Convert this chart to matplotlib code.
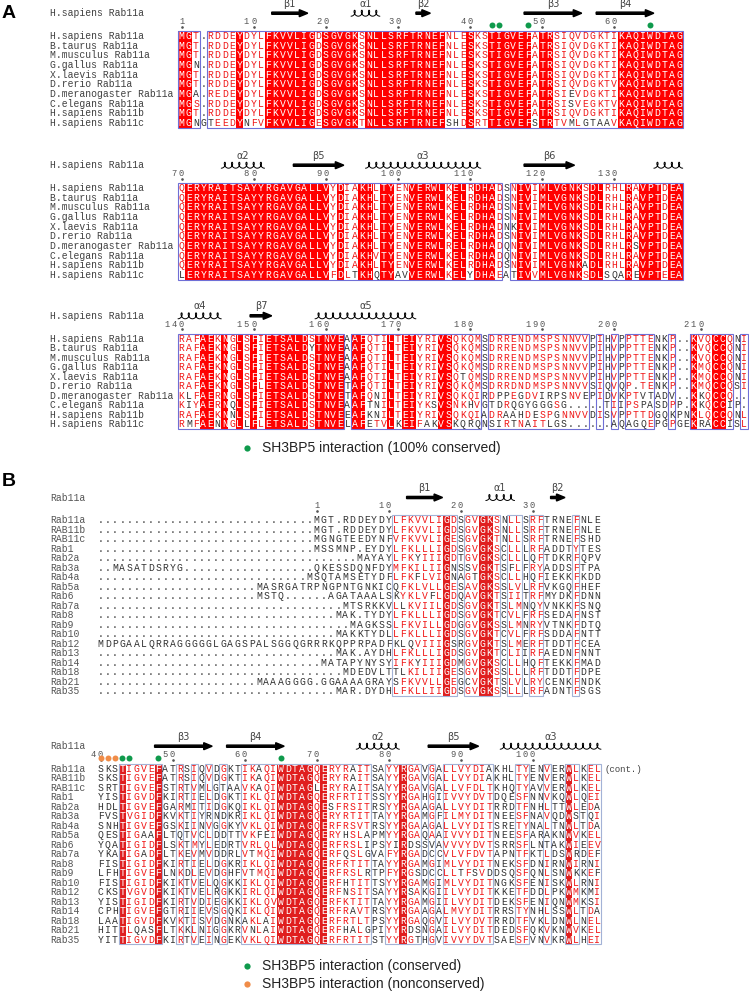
import matplotlib
matplotlib.use("Agg")
import matplotlib.pyplot as plt
from matplotlib.patches import Rectangle
import numpy as np

# ---------------- data ----------------
names_A = ["H.sapiens Rab11a", "B.taurus Rab11a", "M.musculus Rab11a", "G.gallus Rab11a",
           "X.laevis Rab11a", "D.rerio Rab11a", "D.meranogaster Rab11a", "C.elegans Rab11a",
           "H.sapiens Rab11b", "H.sapiens Rab11c"]

seqA_1 = [
    "MGT.RDDEYDYLFKVVLIGDSGVGKSNLLSRFTRNEFNLESKSTIGVEFATRSIQVDGKTIKAQIWDTAG",
    "MGT.RDDEYDYLFKVVLIGDSGVGKSNLLSRFTRNEFNLESKSTIGVEFATRSIQVDGKTIKAQIWDTAG",
    "MGT.RDDEYDYLFKVVLIGDSGVGKSNLLSRFTRNEFNLESKSTIGVEFATRSIQVDGKTIKAQIWDTAG",
    "MGN.RDDEYDYLFKVVLIGDSGVGKSNLLSRFTRNEFNLESKSTIGVEFATRSIQVDGKTIKAQIWDTAG",
    "MGT.RDDEYDYLFKVVLIGDSGVGKSNLLSRFTRNEFNLESKSTIGVEFATRSIQVDGKTIKAQIWDTAG",
    "MGT.RDDEYDYLFKVVLIGDSGVGKSNLLSRFTRNEFNLESKSTIGVEFATRSIQVDGKTVKAQIWDTAG",
    "MGA.REDEYDYLFKVVLIGDSGVGKSNLLSRFTRNEFNLESKSTIGVEFATRSIEVDGKTIKAQIWDTAG",
    "MGS.RDDEYDYLFKVVLIGDSGVGKSNLLSRFTRNEFNLESKSTIGVEFATRSISVEGKTVKAQIWDTAG",
    "MGT.RDDEYDYLFKVVLIGDSGVGKSNLLSRFTRNEFNLESKSTIGVEFATRSIQVDGKTIKAQIWDTAG",
    "MGNGTEEDYNFVFKVVLIGESGVGKTNLLSRFTRNEFSHDSRTTIGVEFSTRTVMLGTAAVKAQIWDTAG",
]
seqA_2 = [
    "QERYRAITSAYYRGAVGALLVYDIAKHLTYENVERWLKELRDHADSNIVIMLVGNKSDLRHLRAVPTDEA",
    "QERYRAITSAYYRGAVGALLVYDIAKHLTYENVERWLKELRDHADSNIVIMLVGNKSDLRHLRAVPTDEA",
    "QERYRAITSAYYRGAVGALLVYDIAKHLTYENVERWLKELRDHADSNIVIMLVGNKSDLRHLRAVPTDEA",
    "QERYRAITSAYYRGAVGALLVYDIAKHLTYENVERWLKELRDHADSNIVIMLVGNKSDLRHLRAVPTDEA",
    "QERYRAITSAYYRGAVGALLVYDIAKHLTYENVERWLKELRDHADNKIVIMLVGNKSDLRHLRAVPTDEA",
    "QERYRAITSAYYRGAVGALLVYDIAKHLTYENVERWLKELRDHADSNIVIMLVGNKSDLRHLRAVPTDEA",
    "QERYRAITSAYYRGAVGALLVYDIAKHLTYENVERWLRELRDHADQNIVIMLVGNKSDLRHLRSVPTDEA",
    "QERYRAITSAYYRGAVGALLVYDIAKHVTYENVERWLKELRDHADQNIVIMLVGNKSDLRHLRAVPTDEA",
    "QERYRAITSAYYRGAVGALLVYDIAKHLTYENVERWLKELRDHADSNIVIMLVGNKADLRHLRAVPTDEA",
    "LERYRAITSAYYRGAVGALLVFDLTKHQTYAVVERWLKELYDHAEATIVVMLVGNKSDLSQAREVPTEEA",
]
seqA_3 = [
    "RAFAEKNGLSFIETSALDSTNVEAAFQTILTEIYRIVSQKQMSDRRENDMSPSNNVVPIHVPPTTENKP..KVQCCQNI",
    "RAFAEKNGLSFIETSALDYTNVEAAFQTILTEIYRIVSQKQMSDRRENDMSPSNNVVPIHVPPTTENKP..KVQCCQNI",
    "RAFAEKNGLSFIETSALDSTNVEAAFQTILTEIYRIVSQKQMSDRRENDMSPSNNVVPIHVPPTTENKP..KVQCCQNI",
    "RAFAEKNGLSFIETSALDSTNVEAAFQTILTEIYRIVSQKQMSDRRENDMSPSNNVVPIHVPPTTENKP..KMQCCQNI",
    "RAFAEKNGLSFIETSALDSTNVEAAFQTILTEIYRIVSQTQMSDRRENDMSPSNNVVPIHVPPTTENKP..KMQCCQNI",
    "RAFAEKNGLSFLETSALDSTNVETAFQTILTEIYRIVSQKQMSDRRDNDMSPSNNVVSIQVQP.TENKP..KMQCCQSI",
    "KLFAERNGLSFIETSALDSTNVETAFQNILTEIYRIVSQKQIRDPPEGDVIRPSNVEPIDVKPTVTADV..KKQCCQ..",
    "KIYAERNQLSFIETSALDSTNVEAAFTNILTEIYKSVSNKHVGTDRQGYGGGSG.....TIIPSPASDPP.KKQCCIP.",
    "RAFAEKNNLSFIETSALDSTNVEEAFKNILTEIYRIVSQKQIADRAAHDESPGNNVVDISVPPTTDGQKPNKLQCCQNL",
    "RMFAENNGLLFLETSALDSTNVELAFETVLKEIFAKVSKQRQNSIRTNAITLGS......AQAGQEPGPGEKRACCISL",
]
startA = [1, 70, 140]

names_B = ["Rab11a", "RAB11b", "RAB11c", "Rab1", "Rab2a", "Rab3a", "Rab4a", "Rab5a", "Rab6",
           "Rab7a", "Rab8", "Rab9", "Rab10", "Rab12", "Rab13", "Rab14", "Rab18", "Rab21", "Rab35"]

seqB_1 = [
    "." * 30 + "MGT.RDDEYDYLFKVVLIGDSGVGKSNLLSRFTRNEFNLE",
    "." * 30 + "MGT.RDDEYDYLFKVVLIGDSGVGKSNLLSRFTRNEFNLE",
    "." * 30 + "MGNGTEEDYNFVFKVVLIGESGVGKTNLLSRFTRNEFSHD",
    "." * 30 + "MSSMNP.EYDYLFKLLLIGDSGVGKSCLLLRFADDTYTES",
    "." * 36 + "MAYAYLFKYIIIGDTGVGKSCLLLQFTDKRFQPV",
    "..MASATDSRYG" + "." * 18 + "QKESSDQNFDYMFKILIIGNSSVGKTSFLFRYADDSFTPA",
    "." * 29 + "MSQTAMSETYDFLFKFLVIGNAGTGKSCLLHQFIEKKFKDD",
    "." * 22 + "MASRGATRPNGPNTGNKICQFKLVLLGESAVGKSSLVLRFVKGQFHEF",
    "." * 22 + "MSTQ" + "." * 6 + "AGATAAALSKYKLVFLGDQAVGKTSIITRFMYDKFDNN",
    "." * 34 + "MTSRKKVLLKVIILGDSGVGKTSLMNQYVNKKFSNQ",
    "." * 33 + "MAK.TYDYLFKLLLIGDSGVGKTCVLFRFSEDAFNST",
    "." * 35 + "MAGKSSLFKVILLGDGGVGKSSLMNRYVTNKFDTQ",
    "." * 33 + "MAKKTYDLLFKLLLIGDSGVGKTCVLFRFSDDAFNTT",
    "MDPGAALQRRAGGGGGLGAGSPALSGGQGRRRKQPPRPADFKLQVIIIGSRGVGKTSLMERFTDDTFCEA",
    "." * 33 + "MAK.AYDHLFKLLLIGDSGVGKTCLIIRFAEDNFNNT",
    "." * 31 + "MATAPYNYSYIFKYIIIGDMGVGKSCLLHQFTEKKFMAD",
    "." * 34 + "MDEDVLTTLKILIIGESGVGKSSLLLRFTDDTFDPE",
    "." * 22 + "MAAAGGGG.GGAAAAGRAYSFKVVLLGEGCVGKTSLVLRYCENKFNDK",
    "." * 33 + "MAR.DYDHLFKLLIIGDSGVGKSSLLLRFADNTFSGS",
]
seqB_2 = [
    "SKSTIGVEFATRSIQVDGKTIKAQIWDTAGQERYRAITSAYYRGAVGALLVYDIAKHLTYENVERWLKEL",
    "SKSTIGVEFATRSIQVDGKTIKAQIWDTAGQERYRAITSAYYRGAVGALLVYDIAKHLTYENVERWLKEL",
    "SRTTIGVEFSTRTVMLGTAAVKAQIWDTAGLERYRAITSAYYRGAVGALLVFDLTKHQTYAVVERWLKEL",
    "YISTIGVDFKIRTIELDGKTIKLQIWDTAGQERFRTITSSYYRGAHGIIVVYDVTDQESFNNVKQWLQEI",
    "HDLTIGVEFGARMITIDGKQIKLQIWDTAGQESFRSITRSYYRGAAGALLVYDITRRDTFNHLTTWLEDA",
    "FVSTVGIDFKVKTIYRNDKRIKLQIWDTAGQERYRTITTAYYRGAMGFILMYDITNEESFNAVQDWSTQI",
    "SNHTIGVEFGSKIINVGGKYVKLQIWDTAGQERFRSVTRSYYRGAAGALLVYDITSRETYNALTNWLTDA",
    "QESTIGAAFLTQTVCLDDTTVKFEIWDTAGQERYHSLAPMYYRGAQAAIVVYDITNEESFARAKNWVKEL",
    "YQATIGIDFLSKTMYLEDRTVRLQLWDTAGQERFRSLIPSYIRDSSVAVVVYDVTSRRSFLNTAKWIEEV",
    "YKATIGADFLTKEVMVDDRLVTMQIWDTAGQERFQSLGVAFYRGADCCVLVFDVTAPNTFKTLDSWRDEF",
    "FISTIGIDFKIRTIELDGKRIKLQIWDTAGQERFRTITTAYYRGAMGIMLVYDITNEKSFDNIRNWIRNI",
    "LFHTIGVEFLNKDLEVDGHFVTMQIWDTAGQERFRSLRTPFYRGSDCCLLTFSVDDSQSFQNLSNWKKEF",
    "FISTIGIDFKIKTVELQGKKIKLQIWDTAGQERFHTITTSYYRGAMGIMLVYDITNGKSFENISKWLRNI",
    "CKSTVGVDFKIKTVELRGKKIRLQIWDTAGQERFNSITSAYYRSAKGIILVYDITKKETFDDLPKWMKMI",
    "YISTIGIDFKIRTVDIEGKKIKLQVWDTAGQERFKTITTAYYRGAMGIILVYDITDEKSFENIQNWMKSI",
    "CPHTIGVEFGTRIIEVSGQKIKLQIWDTAGQERFRAVTRSYYRGAAGALMVYDITRRSTYNHLSSWLTDA",
    "LAATIGVDFKVKTISVDGNKAKLAIWDTAGQERFRTLTPSYYRGAQGVILVYDVTRRDTFVKLDNWLNEL",
    "HITTLQASFLTKKLNIGGKRVNLAIWDTAGQERFHALGPIYYRDSNGAILVYDITDEDSFQKVKNWVKEL",
    "YITTIGVDFKIRTVEINGEKVKLQIWDTAGQERFRTITSTYYRGTHGVIVVYDVTSAESFVNVKRWLHEI",
]
startB = [1, 40]

# secondary structure of Rab11a (residue ranges)
ss_label = ["β1", "α1", "β2", "β3", "β4", "α2", "β5", "α3", "β6", "", "α4", "β7", "α5"]
ss_kind = ["arrow", "coil", "arrow", "arrow", "arrow", "coil", "arrow", "coil", "arrow",
           "coil", "coil", "arrow", "coil"]
ss_start = [13, 24, 33, 48, 58, 76, 86, 96, 118, 136, 140, 150, 159]
ss_end = [17, 27, 34, 55, 65, 81, 92, 111, 124, 139, 145, 152, 172]

marks_A_green = [43, 44, 48, 65]
marks_B_green = [43, 44, 48, 65]
marks_B_orange = [40, 41, 42]

legend_A = ["SH3BP5 interaction (100% conserved)"]
legend_B = ["SH3BP5 interaction (conserved)", "SH3BP5 interaction (nonconserved)"]

# ---------------- checks ----------------
for nm, blk in [("A1", seqA_1), ("A2", seqA_2), ("A3", seqA_3), ("B1", seqB_1), ("B2", seqB_2)]:
    lens = [len(s) for s in blk]
    if len(set(lens)) != 1:
        raise ValueError(f"{nm} lengths {lens}")

# ---------------- style ----------------
MONO = "Liberation Mono"
GREEN = "#0f9a4c"
ORANGE = "#f08c48"
RED_TXT = "#f01818"
DARK = "#333333"
GROUPS = ["ILVM", "FYW", "KR", "DE", "NQ", "ST", "AG", "H", "C", "P"]


def grp(c):
    for i, g in enumerate(GROUPS):
        if c in g:
            return i
    return -1


def classify(col):
    n = len(col)
    if "." not in col and len(set(col)) == 1:
        return ("ident", None)
    gs = [grp(c) for c in col if c != "."]
    if not gs:
        return ("none", None)
    best = max(set(gs), key=gs.count)
    if best != -1 and gs.count(best) / n >= 0.7:
        return ("sim", best)
    return ("none", None)


fig = plt.figure(figsize=(7.49, 9.93), dpi=100)
ax = fig.add_axes([0, 0, 1, 1])
ax.set_xlim(0, 749)
ax.set_ylim(993, 0)
ax.axis("off")


def coil(xs, xe, yc, cw, lw=0.7):
    n = max(1, int(round((xe - xs) / cw)))
    t = np.linspace(0, 2 * np.pi * n, 60 * n)
    a = (xe - xs) / (2 * np.pi * n)
    b = 2.1
    x = xs + a * t + b * np.sin(t)
    y = yc + 3.0 * np.cos(t)
    ax.plot(x, y, color="black", lw=lw, solid_capstyle="round", zorder=5)


def draw_block(seqs, names, header, start_res, x0, cw, y0, rh, bg, frame, name_col,
               greens=(), oranges=(), name_x=50, fs=7.0):
    nrow = len(seqs)
    ncol = len(seqs[0])
    rows_y = [y0 + i * rh for i in range(nrow)]
    top = y0 - rh / 2
    bot = rows_y[-1] + rh / 2
    ref = seqs[0]
    res_col = {}
    r = start_res
    for j, c in enumerate(ref):
        if c != ".":
            res_col[r] = j
            r += 1
    status = [classify([s[j] for s in seqs]) for j in range(ncol)]
    for j, (st, g) in enumerate(status):
        if st == "ident":
            ax.add_patch(Rectangle((x0 + j * cw, top), cw, bot - top, facecolor=bg,
                                   edgecolor="none", zorder=1))
    j = 0
    while j < ncol:
        if status[j][0] != "none":
            k = j
            while k + 1 < ncol and status[k + 1][0] != "none":
                k += 1
            ax.add_patch(Rectangle((x0 + j * cw, top), (k - j + 1) * cw, bot - top,
                                   fill=False, edgecolor=frame, lw=0.8, zorder=2))
            j = k + 1
        else:
            j += 1
    base = 3.2
    for i, s in enumerate(seqs):
        y = rows_y[i]
        ax.text(name_x, y + base, names[i], fontsize=fs, family=MONO, color=name_col,
                ha="left", va="baseline")
        for j, c in enumerate(s):
            st, g = status[j]
            if st == "ident":
                col = "white"
            elif st == "sim" and c != "." and grp(c) == g:
                col = RED_TXT
            else:
                col = DARK
            ax.text(x0 + (j + 0.5) * cw, y + base, c, fontsize=fs, family=MONO,
                    color=col, ha="center", va="baseline", zorder=4)
    # header line
    yh = y0 - 22.5
    ax.text(name_x, yh + base, header, fontsize=fs, family=MONO, color=name_col,
            ha="left", va="baseline")
    # numbers
    yn = y0 - 14
    for rr, j in res_col.items():
        if rr == 1 or rr % 10 == 0:
            dig = str(rr)
            for k, d in enumerate(reversed(dig)):
                ax.text(x0 + (j - k + 0.5) * cw, yn + 2.5, d, fontsize=6.3, family=MONO,
                        color="#555555", ha="center", va="baseline")
            ax.plot([x0 + (j + 0.5) * cw], [yn + 5.0], "o", ms=0.9, color="#555555")
    # secondary structure
    for lab, kind, s0, s1 in zip(ss_label, ss_kind, ss_start, ss_end):
        cols = [res_col[q] for q in range(s0, s1 + 1) if q in res_col]
        if not cols:
            continue
        xs = x0 + min(cols) * cw
        xe = x0 + (max(cols) + 1) * cw
        if kind == "arrow":
            ax.arrow(xs, yh, xe - xs, 0, width=2.2, head_width=7.0, head_length=8.5,
                     length_includes_head=True, color="black", zorder=5)
        else:
            coil(xs, xe, yh, cw)
        if lab:
            ax.text((xs + xe) / 2, y0 - 32, lab, fontsize=7, color="#444444",
                    ha="center", va="center", family="DejaVu Sans")
    ym = y0 - 10.5
    for q in oranges:
        if q in res_col:
            ax.plot([x0 + (res_col[q] + 0.5) * cw], [ym], "o", ms=4.3, color=ORANGE,
                    mec="none", zorder=6)
    for q in greens:
        if q in res_col:
            ax.plot([x0 + (res_col[q] + 0.5) * cw], [ym], "o", ms=4.3, color=GREEN,
                    mec="none", zorder=6)


# ---------------- panel A ----------------
A_y0 = [35.7, 187.7, 338.3]
A_rh = [9.7, 9.67, 9.55]
for blk, st, y0, rh in zip([seqA_1, seqA_2, seqA_3], startA, A_y0, A_rh):
    draw_block(blk, names_A, "H.sapiens Rab11a", st, 178, 7.21, y0, rh,
               "#ff0000", "#6f6fd6", "#404040", greens=marks_A_green)

# ---------------- panel B ----------------
B_y0 = [520.0, 768.7]
B_rh = [9.5, 9.5]
for blk, st, y0, rh in zip([seqB_1, seqB_2], startB, B_y0, B_rh):
    draw_block(blk, names_B, "Rab11a", st, 97, 7.2, y0, rh,
               "#e01e1e", "#a3b2d6", "#555555", greens=marks_B_green,
               oranges=marks_B_orange)
ax.text(605, B_y0[1] + 3.2, "(cont.)", fontsize=6.5, family=MONO, color="#444444",
        ha="left", va="baseline")

# panel letters
ax.text(8.5, 13.5, "A", fontsize=14, fontweight="bold", family="Liberation Sans",
        ha="center", va="center")
ax.text(8.5, 482, "B", fontsize=14, fontweight="bold", family="Liberation Sans",
        ha="center", va="center")

# legends
ax.plot([247], [448], "o", ms=4.5, color=GREEN, mec="none")
ax.text(262, 448, legend_A[0], fontsize=10, family="Liberation Sans", color="#222222",
        ha="left", va="center")
for txt, colr, yy in zip(legend_B, [GREEN, ORANGE], [966, 984]):
    ax.plot([247], [yy], "o", ms=4.5, color=colr, mec="none")
    ax.text(262, yy, txt, fontsize=10, family="Liberation Sans", color="#222222",
            ha="left", va="center")

fig.savefig("out.png", dpi=100)
